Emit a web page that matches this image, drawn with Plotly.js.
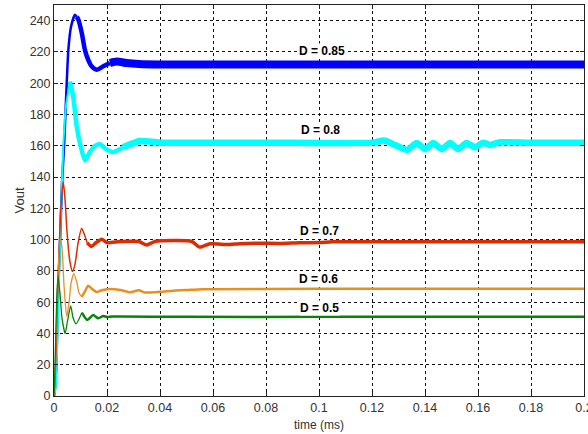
<!DOCTYPE html>
<html>
<head>
<meta charset="utf-8">
<script src="https://cdn.plot.ly/plotly-3.0.1.min.js"></script>
<style>html,body{margin:0;padding:0;background:#fff;}#chart{width:588px;height:434px;}</style>
</head>
<body>
<div id="chart"></div>
<script>
// ---- Data (time in ms-axis units, Vout) ----
const time_085 = [0, 0.0004, 0.0009, 0.0015, 0.0023, 0.0030, 0.0038, 0.0048, 0.0054, 0.0064, 0.0079, 0.0086, 0.0092, 0.0105, 0.0117, 0.0129, 0.0142, 0.0161, 0.0186, 0.0211, 0.0237, 0.0274, 0.032, 0.04, 0.06, 0.1, 0.15, 0.2];
const vout_085 = [0, 5, 20, 65, 100, 135, 160, 200, 221, 236, 243.8, 242.5, 240.6, 232, 221, 215, 210.8, 208.6, 210.8, 212.9, 213.8, 212.9, 212.3, 212, 212, 212, 212, 212];

const time_08 = [0, 0.0006, 0.0015, 0.0025, 0.0035, 0.0045, 0.0060, 0.0072, 0.0086, 0.0100, 0.0117, 0.0135, 0.0155, 0.0174, 0.0195, 0.0223, 0.026, 0.0325, 0.04, 0.08, 0.12, 0.1245, 0.1287, 0.1331, 0.1369, 0.1400, 0.1431, 0.1463, 0.1494, 0.1525, 0.1557, 0.1589, 0.1619, 0.1645, 0.1683, 0.18, 0.2];
const vout_08 = [0, 5, 50, 110, 160, 185, 201, 192, 172, 160, 150.6, 156, 160, 161, 158, 156, 159, 163, 162, 162, 162, 163.3, 160.5, 157.4, 161.7, 157.9, 161.7, 157.9, 161.7, 158, 161.7, 159, 162, 160.5, 162.2, 162, 162];

const time_07 = [0, 0.0004, 0.0011, 0.0019, 0.0026, 0.0035, 0.0042, 0.0049, 0.0060, 0.0070, 0.0079, 0.0091, 0.0104, 0.0113, 0.0125, 0.0142, 0.0158, 0.0180, 0.0200, 0.0249, 0.0320, 0.0350, 0.0381, 0.0520, 0.0549, 0.0589, 0.0657, 0.0700, 0.0777, 0.0853, 0.0928, 0.1004, 0.1050, 0.15, 0.2];
const vout_07 = [0, 10, 50, 90, 120, 137, 125, 105, 86, 79.6, 84, 98, 107.3, 104, 98, 95.6, 98, 100.3, 98.1, 98.8, 98.8, 96.6, 98.8, 98.8, 95.2, 97.3, 96.8, 97.4, 97.7, 97.5, 98, 98.1, 98.6, 98.6, 98.6];

const time_06 = [0, 0.0004, 0.0011, 0.0023, 0.0030, 0.0038, 0.0048, 0.0057, 0.0064, 0.0075, 0.0087, 0.0094, 0.0105, 0.0117, 0.0129, 0.0143, 0.0161, 0.0177, 0.0199, 0.025, 0.0287, 0.032, 0.0343, 0.040, 0.045, 0.050, 0.056, 0.1, 0.2];
const vout_06 = [0, 15, 60, 101, 95, 70, 50.8, 60, 72, 78.3, 72, 66, 63.4, 67, 70.5, 68.5, 66.5, 67.5, 68.3, 67.8, 66.3, 67.6, 66.2, 66.6, 67.3, 67.7, 68.3, 68.5, 68.5];

const time_05 = [0, 0.0004, 0.0010, 0.0015, 0.0023, 0.0030, 0.0042, 0.0051, 0.0063, 0.0072, 0.0083, 0.0105, 0.0126, 0.0148, 0.0167, 0.0186, 0.0200, 0.022, 0.05, 0.1, 0.2];
const vout_05 = [0, 20, 60, 77, 65, 50, 40, 48, 57.6, 50, 46.1, 53.3, 48.6, 51.8, 49.7, 51.2, 50.5, 50.8, 50.6, 50.6, 50.6];

const labels = ['D = 0.85', 'D = 0.8', 'D = 0.7', 'D = 0.6', 'D = 0.5'];
const labelT = [0.101, 0.1004, 0.1001, 0.0997, 0.1000];
const labelV = [220.4, 170.2, 105.8, 74.7, 56.1];

const xTicks = [0, 0.02, 0.04, 0.06, 0.08, 0.1, 0.12, 0.14, 0.16, 0.18, 0.2];
const xTickText = ['0', '0.02', '0.04', '0.06', '0.08', '0.1', '0.12', '0.14', '0.16', '0.18', '0.2'];
const yTicks = [0, 20, 40, 60, 80, 100, 120, 140, 160, 180, 200, 220, 240];

// ---- Styles ----
const series = [
  {t: time_085, v: vout_085, color: '#0000ff', segs: [[0.0086, 2.5], [0.02, 4.5], [1, 8]]},
  {t: time_08, v: vout_08, color: '#00ffff', segs: [[0.006, 2], [0.025, 4.5], [1, 6.5]]},
  {t: time_07, v: vout_07, color: '#dd2c00', segs: [[0.0125, 1.5], [1, 3.5]]},
  {t: time_06, v: vout_06, color: '#e8901e', segs: [[0.0100, 1.3], [1, 2.5]]},
  {t: time_05, v: vout_05, color: '#0a820a', segs: [[0.0100, 1.3], [1, 2.5]]}
];

const traces = [];
series.forEach(s => {
  let start = 0;
  s.segs.forEach(([tEnd, w]) => {
    let end = s.t.findIndex(x => x >= tEnd);
    if (end < 0) end = s.t.length - 1;
    traces.push({
      x: s.t.slice(start, end + 1), y: s.v.slice(start, end + 1),
      type: 'scatter', mode: 'lines', hoverinfo: 'skip',
      line: {color: s.color, width: w, shape: 'spline', smoothing: 0.6},
      showlegend: false
    });
    start = end;
  });
});

const annotations = labels.map((txt, i) => ({
  x: labelT[i], y: labelV[i], xref: 'x', yref: 'y', text: '<b>' + txt + '</b>',
  showarrow: false, bgcolor: '#fff', borderpad: 0,
  font: {family: 'Liberation Sans, Arial, sans-serif', size: 12, color: '#000'}
}));

const axisCommon = {
  showline: true, linecolor: '#222', linewidth: 1, mirror: 'ticks',
  ticks: 'inside', ticklen: 4, tickcolor: '#222',
  showgrid: true, gridcolor: '#111', gridwidth: 1, griddash: '3px,3px',
  zeroline: false, ticklabeloverflow: 'allow',
  tickfont: {family: 'Liberation Sans, Arial, sans-serif', size: 12.5, color: '#333'}
};

const layout = {
  width: 588, height: 434,
  margin: {l: 54, r: 4, t: 5, b: 38},
  paper_bgcolor: '#fff', plot_bgcolor: '#fff',
  xaxis: Object.assign({}, axisCommon, {
    range: [0, 0.2], tickvals: xTicks, ticktext: xTickText,
    title: {text: 'time (ms)', standoff: 6, font: {family: 'Liberation Sans, Arial, sans-serif', size: 12, color: '#333'}}
  }),
  yaxis: Object.assign({}, axisCommon, {
    range: [0, 250], tickvals: yTicks,
    title: {text: 'Vout', standoff: 2, font: {family: 'Liberation Sans, Arial, sans-serif', size: 13, color: '#333'}}
  }),
  annotations: annotations,
  showlegend: false
};

Plotly.newPlot('chart', traces, layout, {staticPlot: true, displayModeBar: false});
</script>
</body>
</html>
